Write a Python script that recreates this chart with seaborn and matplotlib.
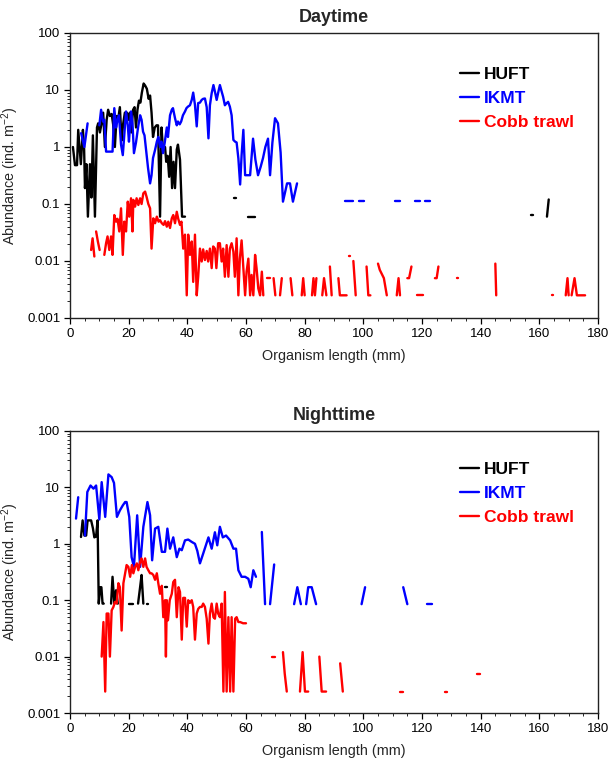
import numpy as np
import pandas as pd
import matplotlib
matplotlib.use("Agg")
import matplotlib.pyplot as plt
import seaborn as sns
from matplotlib.ticker import FixedLocator, FuncFormatter, LogLocator, MultipleLocator, NullFormatter
from matplotlib.lines import Line2D

nan = np.nan

# ---------------- Data (organism length in mm, abundance ind. m-2) ----------------
series_names = ["HUFT", "IKMT", "Cobb trawl"]
series_colors = ["#000000", "#0000FF", "#FF0000"]

# Daytime HUFT
day_huft_x = [1.0, 1.7, 2.4, 2.8, 3.7, 4.4, 4.8, 5.1, 5.6, 6.1, 6.8, 7.3, 7.8, 8.5, 9.2, 9.6,
              10.2, 10.7, 11.3, 11.9, 12.5, 13.0, 13.6, 14.2, 14.7, 15.3, 15.9, 16.4, 17.0, 17.6,
              18.1, 18.7, 19.4, 19.9, 20.4, 20.9, 21.5, 22.0, 22.5, 23.0, 23.5, 24.0, 24.5, 25.1,
              25.6, 26.2, 26.8, 27.3, 27.8, 28.3, 28.9, 29.5, 30.0, 30.7, 31.2, 31.7, 32.4, 32.8,
              33.3, 33.8, 34.3, 34.8, 35.3, 35.8, 36.4, 36.8, 37.5, 38.2, 39.2,
              nan, 56.0, 56.6, nan, 60.6, 62.9, nan, 157.3, 158.0, nan, 162.6, 163.2]
day_huft_y = [1.0, 0.48, 0.48, 2.0, 0.5, 2.0, 1.0, 0.19, 0.5, 0.06, 0.5, 0.13, 1.6, 0.06, 2.2, 2.6,
              1.8, 2.5, 4.0, 1.0, 3.0, 4.5, 3.5, 3.8, 2.5, 1.0, 3.5, 3.0, 5.0, 1.3,
              2.5, 4.0, 4.0, 3.0, 4.0, 1.8, 4.5, 5.0, 2.2, 4.5, 6.5, 6.0, 9.0, 13.0,
              12.0, 10.5, 7.0, 8.0, 4.0, 1.5, 2.2, 2.4, 2.4, 0.06, 2.2, 0.9, 1.0, 0.55,
              0.7, 0.3, 1.0, 0.19, 0.55, 0.19, 0.9, 1.1, 0.6, 0.06, 0.06,
              nan, 0.13, 0.13, nan, 0.06, 0.06, nan, 0.065, 0.065, nan, 0.06, 0.12]

# Daytime IKMT
day_ikmt_x = [3.8, 4.9, 6.0, nan,
              10.0, 10.6, 11.2, 11.7, 12.3, 13.4, 14.5, 15.1, 15.7, 16.2, 16.7, 17.4, 18.0, 18.5,
              19.1, 19.7, 20.1, 20.8, 21.3, 21.8, 22.5, 23.2, 23.9, 24.4, 24.9, 25.4, 26.0, 26.6,
              27.3, 27.8, 28.3, 29.0, 29.6, 30.1, 30.7, 31.2, 31.7, 32.3, 33.0, 33.4, 34.1, 34.7,
              35.1, 35.8, 36.4, 36.8, 37.4, 37.9, 38.5, 39.2, 39.7, 40.2, 40.9, 41.5, 42.0, 42.6,
              43.2, 43.7, 44.3, 44.9, 45.4, 46.0, 46.6, 47.2, 47.7, 48.3, 48.9, 49.4, 50.0, 50.6,
              51.1, 51.7, 52.2, 52.8, 53.3, 53.9, 54.5, 55.1, 55.7, 56.3, 56.8, 57.4, 58.0, 58.5,
              59.1, 59.7, 60.3, 61.4, 62.4, 63.2, 64.1, 65.0, 65.8, 66.6, 67.5, 68.2, 69.0, 69.9,
              70.9, 71.8, 72.6, 74.0, 75.0, 76.0, 77.4,
              nan, 93.8, 96.5, nan, 98.5, 100.2, nan, 110.8, 112.5, nan, 117.6, 119.3, nan, 121.0, 122.7]
day_ikmt_y = [1.75, 1.0, 2.6, nan,
              2.4, 4.5, 2.8, 3.0, 0.83, 0.83, 0.83, 4.8, 2.2, 3.0, 3.6, 1.1, 0.72, 1.6,
              4.2, 2.4, 1.24, 4.2, 2.6, 0.78, 1.2, 2.2, 3.6, 3.0, 1.86, 1.6, 0.83, 0.43,
              0.23, 0.32, 0.64, 0.89, 1.24, 1.5, 1.0, 1.24, 0.78, 1.2, 2.2, 1.5, 3.6, 4.5,
              4.8, 3.2, 2.4, 2.8, 2.5, 2.8, 3.6, 4.2, 4.8, 5.1, 5.4, 6.7, 9.0, 5.5,
              2.3, 5.9, 6.0, 6.7, 7.0, 7.1, 5.0, 1.42, 5.4, 8.8, 12.2, 9.4, 6.7, 9.4,
              12.2, 9.4, 7.6, 5.4, 5.8, 6.2, 5.1, 3.6, 1.33, 1.24, 1.2, 0.63, 0.22, 0.72,
              2.0, 0.32, 0.32, 0.32, 1.4, 0.6, 0.32, 0.45, 0.64, 1.0, 1.4, 0.32, 1.2, 3.2,
              2.6, 0.8, 0.11, 0.23, 0.23, 0.11, 0.23,
              nan, 0.113, 0.113, nan, 0.113, 0.113, nan, 0.113, 0.113, nan, 0.113, 0.113, nan, 0.113, 0.113]

# Daytime Cobb trawl
day_cobb_x = [7.2, 7.7, 8.3, nan, 8.9, 9.5, 10.1, nan,
              11.7, 12.3, 12.8, 13.4, 14.0, 14.5, 15.1, 15.7, 16.2, 16.8, 17.4, 18.0, 18.5, 19.1,
              19.7, 20.2, 20.8, 21.3, 21.6, 22.2, 22.7, 23.3, 23.9, 24.4, 25.0, 25.6, 26.1, 26.7,
              27.3, 27.8, 28.4, 29.0, 29.6, 30.2, 30.7, 31.3, 31.9, 32.4, 33.0, 33.5, 34.1, 34.7,
              35.2, 35.8, 36.4, 36.9, 37.5, 38.0, 38.6, 39.2, 39.8, 40.3, 40.9, 41.5, 42.0, 42.6,
              43.2, 43.7, 44.3, 44.9, 45.4, 46.0, 46.6, 47.1, 47.7, 48.3, 48.8, 49.4, 49.9, 50.5,
              51.1, 51.7, 52.2, 52.8, 53.4, 54.0, 54.5, 55.1, 55.7, 56.2, 56.8, 57.4, 57.9, 58.5,
              59.1, 59.7, 60.2, 60.8, 61.4, 61.9, 62.5, 63.1, 63.6, 64.2, 64.8, 65.4, 65.9,
              nan, 67.0, 68.2, nan, 69.4, 70.0, nan, 71.6, 72.2, nan, 75.2, 75.8,
              nan, 79.0, 79.5, 80.0, nan, 82.5, 83.0, 83.5, 84.0, nan, 86.0, 86.6, 87.4,
              nan, 88.6, 89.2, nan, 91.5, 92.0, 94.3, nan, 95.0, 95.6, nan, 96.6, 97.4,
              nan, 101.1, 101.7, 102.4, nan, 105.0, 105.6, 107.0, 108.0,
              nan, 111.4, 112.0, 112.5, nan, 115.0, 115.6, 116.4, nan, 118.2, 120.5,
              nan, 124.4, 125.0, 125.6, nan, 131.8, 132.4, nan, 145.0, 145.3,
              nan, 164.2, 164.8, nan, 169.0, 169.6, 170.0, nan, 171.0, 172.0, 172.8, 173.5, 175.6]
day_cobb_y = [0.0156, 0.025, 0.012, nan, 0.033, 0.022, 0.0156, nan,
              0.0128, 0.0205, 0.027, 0.0156, 0.027, 0.0128, 0.064, 0.049, 0.055, 0.033, 0.084, 0.0128, 0.049, 0.033,
              0.11, 0.06, 0.126, 0.033, 0.118, 0.09, 0.126, 0.096, 0.126, 0.1, 0.154, 0.165, 0.134, 0.1,
              0.084, 0.0165, 0.056, 0.046, 0.06, 0.049, 0.052, 0.046, 0.043, 0.05, 0.04, 0.049, 0.038, 0.056,
              0.064, 0.046, 0.073, 0.055, 0.043, 0.049, 0.0165, 0.029, 0.0025, 0.029, 0.0128, 0.022, 0.0043, 0.029,
              0.0025, 0.0053, 0.0165, 0.0098, 0.016, 0.0104, 0.015, 0.0098, 0.0165, 0.0075, 0.018, 0.0165, 0.0075, 0.0205,
              0.0205, 0.0098, 0.0165, 0.0053, 0.019, 0.0053, 0.0165, 0.0205, 0.0145, 0.0053, 0.025, 0.0025, 0.011, 0.023,
              0.0075, 0.0025, 0.0065, 0.011, 0.0025, 0.0057, 0.0025, 0.0128, 0.0075, 0.0033, 0.0025, 0.0065, 0.0025,
              nan, 0.005, 0.005, nan, 0.005, 0.0025, nan, 0.0025, 0.005, nan, 0.005, 0.0025,
              nan, 0.0025, 0.005, 0.0025, nan, 0.0025, 0.005, 0.0025, 0.005, nan, 0.0025, 0.005, 0.0025,
              nan, 0.008, 0.0025, nan, 0.005, 0.0025, 0.0025, nan, 0.012, 0.012, nan, 0.01, 0.0025,
              nan, 0.008, 0.0025, 0.0025, nan, 0.009, 0.007, 0.005, 0.0025,
              nan, 0.0025, 0.005, 0.0025, nan, 0.005, 0.005, 0.008, nan, 0.0025, 0.0025,
              nan, 0.005, 0.005, 0.008, nan, 0.005, 0.005, nan, 0.009, 0.0025,
              nan, 0.0025, 0.0025, nan, 0.0025, 0.005, 0.0025, nan, 0.0025, 0.005, 0.0025, 0.0025, 0.0025]

# Nighttime HUFT
night_huft_x = [3.75, 4.3, 4.9, 5.5, 6.0, 6.6, 7.2, 7.8, 8.3, 8.9, 9.4, 9.8, 10.3, 10.7, 11.1, 11.5,
                nan, 14.0, 14.5, 15.1, 15.7, 16.3, nan, 20.2, 21.4,
                nan, 23.2, 23.9, 24.4, 25.0, nan, 26.1, 26.7, nan, 32.5, 33.0]
night_huft_y = [1.32, 2.6, 1.4, 1.4, 2.6, 2.6, 2.6, 1.9, 1.3, 1.35, 2.6, 0.087, 0.17, 0.17, 0.087, 0.087,
                nan, 0.087, 0.26, 0.087, 0.15, 0.087, nan, 0.087, 0.087,
                nan, 0.087, 0.17, 0.28, 0.087, nan, 0.087, 0.087, nan, 0.17, 0.17]

# Nighttime IKMT
night_ikmt_x = [2.05, 2.8, nan,
                5.1, 5.9, 7.0, 8.0, 8.9, 10.0, 10.8, 12.0, 13.1, 14.2, 15.0, 16.0, 17.0, 18.0, 18.8,
                19.3, 20.2, 21.0, 21.8, 22.9, 23.9, 25.0, 26.4, 27.3, 28.0, 29.0, 30.1, 31.3, 32.4,
                33.2, 34.1, 35.2, 36.4, 37.3, 38.1, 39.2, 40.3, 41.5, 42.6, 43.4, 44.3, 45.4, 47.2,
                48.3, 49.4, 50.2, 51.1, 52.1, 53.2, 54.6, 55.7, 56.6, 57.4, 58.5, 59.7, 60.8, 61.6,
                62.5, 63.4,
                nan, 65.4, 66.5, nan, 68.2, 69.6, nan, 76.4, 77.5, 78.7,
                nan, 80.5, 81.2, 82.4, 83.9, nan, 99.4, 100.6, nan, 113.6, 115.0, nan, 121.8, 123.3]
night_ikmt_y = [2.8, 6.7, nan,
                1.4, 8.3, 10.8, 9.5, 10.8, 2.7, 12.4, 3.0, 17.0, 15.2, 12.0, 3.0, 3.9, 4.8, 5.5,
                5.5, 3.0, 0.58, 0.39, 3.2, 0.39, 2.0, 5.5, 3.2, 0.51, 1.86, 2.0, 0.72, 0.72,
                1.86, 0.82, 1.3, 0.58, 0.82, 0.77, 1.15, 1.19, 1.08, 1.0, 0.75, 0.45, 0.67, 1.3,
                0.82, 1.6, 0.94, 2.0, 1.3, 1.4, 1.15, 0.82, 0.82, 0.34, 0.26, 0.26, 0.24, 0.17,
                0.34, 0.26,
                nan, 1.62, 0.085, nan, 0.085, 0.43, nan, 0.085, 0.17, 0.085,
                nan, 0.085, 0.17, 0.17, 0.085, nan, 0.085, 0.17, nan, 0.17, 0.085, nan, 0.085, 0.085]

# Nighttime Cobb trawl
night_cobb_x = [10.8, 11.4, 12.0, 12.5, 13.1, 13.6, 14.2, 14.8, 15.3, 15.9, 16.5, 17.0, 17.6, 18.2,
                18.8, 19.3, 19.9, 20.5, 21.1, 21.6, 22.2, 22.8, 23.3, 23.9, 24.4, 25.0, 25.6, 26.1,
                26.7, 27.3, 27.8, 28.4, 29.0, 29.6, 30.1, 30.7, 31.3, 31.8, 32.4, 32.7, 33.0, 33.4,
                34.0, 34.7, 35.2, 35.8, 36.4, 37.0, 37.5, 38.1, 38.6, 39.2, 39.8, 40.3, 40.9, 41.5,
                42.0, 42.6, 43.2, 43.7, 44.3, 44.9, 45.4, 46.0, 46.6, 47.2, 47.7, 48.3, 48.9, 49.4,
                50.0, 50.5, 51.1, 51.7, 52.3, 52.8, 53.4, 54.0, 54.6, 55.1, 55.7, 56.3, 56.8, 57.4,
                58.0, 59.0, 60.0,
                nan, 68.8, 69.9, nan, 72.6, 73.2, 73.9, nan, 78.4, 79.3, 80.1, 81.2,
                nan, 85.0, 85.8, 87.3, nan, 92.1, 93.0, nan, 112.6, 113.4, nan, 127.8, 128.6,
                nan, 138.9, 139.8]
night_cobb_y = [0.01, 0.041, 0.0024, 0.058, 0.058, 0.01, 0.066, 0.076, 0.093, 0.087, 0.2, 0.17, 0.029, 0.2,
                0.3, 0.42, 0.39, 0.26, 0.42, 0.3, 0.39, 0.45, 0.34, 0.48, 0.55, 0.39, 0.55, 0.39,
                0.34, 0.3, 0.3, 0.28, 0.23, 0.3, 0.2, 0.13, 0.18, 0.05, 0.1, 0.01, 0.1, 0.044,
                0.1, 0.13, 0.21, 0.23, 0.05, 0.17, 0.14, 0.02, 0.11, 0.11, 0.034, 0.1, 0.09, 0.1,
                0.076, 0.02, 0.058, 0.07, 0.076, 0.076, 0.087, 0.076, 0.047, 0.017, 0.058, 0.087, 0.05, 0.047,
                0.087, 0.058, 0.05, 0.087, 0.0024, 0.14, 0.0024, 0.05, 0.0024, 0.05, 0.0024, 0.047, 0.05, 0.041,
                0.041, 0.039, 0.039,
                nan, 0.01, 0.01, nan, 0.012, 0.005, 0.0024, nan, 0.0024, 0.012, 0.0024, 0.0024,
                nan, 0.01, 0.0024, 0.0024, nan, 0.0076, 0.0024, nan, 0.0024, 0.0024, nan, 0.0024, 0.0024,
                nan, 0.005, 0.005]

panel_titles = ["Daytime", "Nighttime"]
y_tick_values = [0.001, 0.01, 0.1, 1, 10, 100]
y_tick_labels = ["0.001", "0.01", "0.1", "1", "10", "100"]
x_tick_values = [0, 20, 40, 60, 80, 100, 120, 140, 160, 180]
x_label = "Organism length (mm)"
y_label = "Abundance (ind. m$^{-2}$)"


def to_frame(xs, ys):
    rows = []
    seg = 0
    for x, y in zip(xs, ys):
        if np.isnan(x) or np.isnan(y):
            seg += 1
            continue
        rows.append((x, y, seg))
    return pd.DataFrame(rows, columns=["length", "abundance", "seg"])


# ---------------- Figure ----------------
sns.set_style("ticks")
plt.rcParams["font.family"] = ["Liberation Sans", "DejaVu Sans"]
plt.rcParams["mathtext.fontset"] = "custom"
plt.rcParams["mathtext.rm"] = "Liberation Sans"
plt.rcParams["mathtext.it"] = "Liberation Sans:italic"

fig = plt.figure(figsize=(6.11, 7.73), dpi=100)
ax_day = fig.add_axes([70 / 611, 1 - 318 / 773, 528 / 611, 285 / 773])
ax_night = fig.add_axes([70 / 611, 1 - 713 / 773, 528 / 611, 282 / 773])

panels = [
    (ax_day, [(day_huft_x, day_huft_y), (day_ikmt_x, day_ikmt_y), (day_cobb_x, day_cobb_y)], 0.905),
    (ax_night, [(night_huft_x, night_huft_y), (night_ikmt_x, night_ikmt_y), (night_cobb_x, night_cobb_y)], 0.915),
]

for i, (ax, series, leg_y) in enumerate(panels):
    ax.set_yscale("log")
    for (xs, ys), color in zip(series, series_colors):
        df = to_frame(xs, ys)
        sns.lineplot(data=df, x="length", y="abundance", units="seg", estimator=None,
                     sort=False, color=color, linewidth=1.7, ax=ax, legend=False)
    ax.set_xlim(0, 180)
    ax.set_ylim(0.001, 100)
    ax.xaxis.set_major_locator(FixedLocator(x_tick_values))
    ax.xaxis.set_minor_locator(MultipleLocator(5))
    ax.yaxis.set_major_locator(FixedLocator(y_tick_values))
    ax.yaxis.set_major_formatter(FuncFormatter(
        lambda v, p: y_tick_labels[y_tick_values.index(v)] if v in y_tick_values else ""))
    ax.yaxis.set_minor_locator(LogLocator(base=10, subs=np.arange(2, 10)))
    ax.yaxis.set_minor_formatter(NullFormatter())
    ax.tick_params(which="major", direction="out", length=4, width=0.9, labelsize=9.5, colors="#000000", pad=3)
    ax.tick_params(which="minor", direction="out", length=2.5, width=0.7)
    for side in ["top", "right", "bottom", "left"]:
        ax.spines[side].set_visible(True)
        ax.spines[side].set_color("#222222")
        ax.spines[side].set_linewidth(1.0)
    ax.set_xlabel(x_label, fontsize=10.4, labelpad=7)
    ax.set_ylabel(y_label, fontsize=10.4, labelpad=4)
    ax.set_title(panel_titles[i], fontsize=13, fontweight="bold", pad=8)
    handles = [Line2D([0], [0], color=c, lw=1.7) for c in series_colors]
    ax.legend(handles, series_names, loc="upper left", bbox_to_anchor=(0.725, leg_y),
              frameon=False, handlelength=1.1, handletextpad=0.3, labelspacing=0.5,
              borderaxespad=0, prop={"weight": "bold", "size": 12.5}, labelcolor=series_colors)

fig.savefig("out.png", dpi=100)
